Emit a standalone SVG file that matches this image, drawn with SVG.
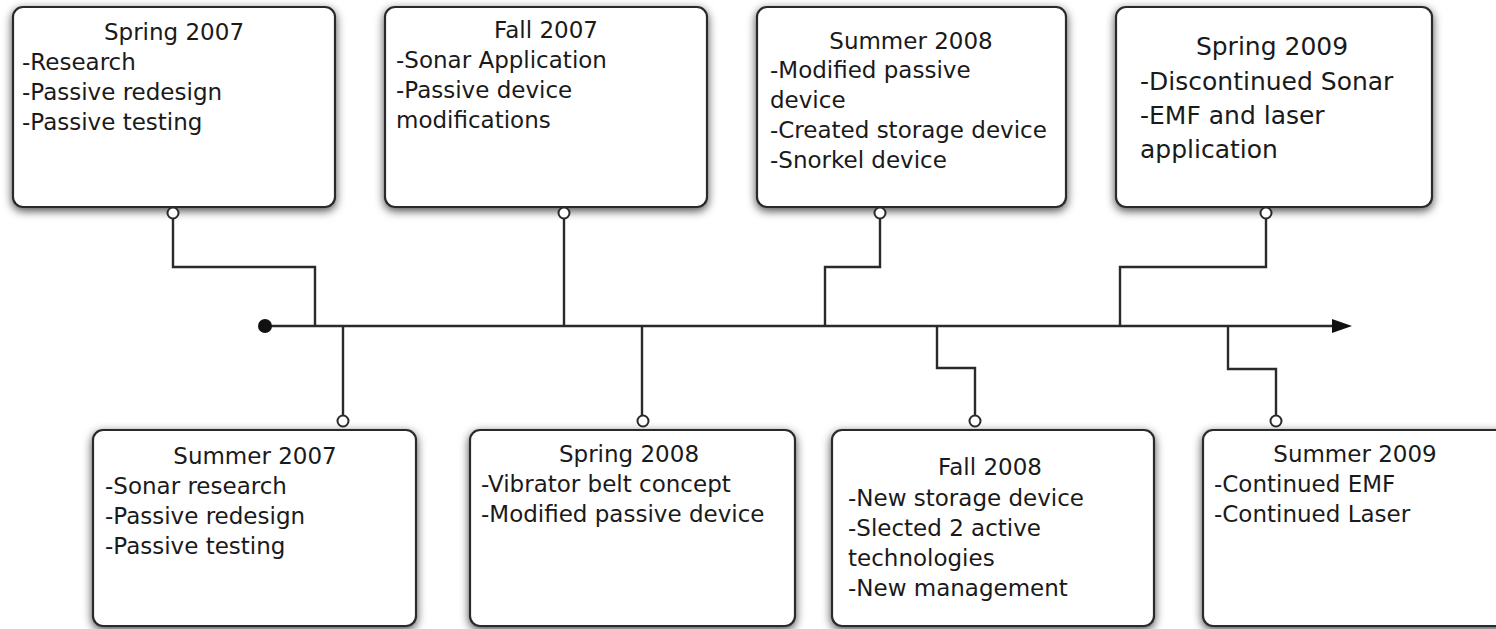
<svg xmlns="http://www.w3.org/2000/svg" width="1496" height="629" viewBox="0 0 1496 629">
<style>
.box{fill:#fff;stroke:#2a2a2a;stroke-width:2.2}
.t{font-family:"DejaVu Sans","Liberation Sans",sans-serif;font-size:23px;fill:#1a1a1a}
.c{text-anchor:middle}
.big{font-size:25px}
.ln{fill:none;stroke:#2a2a2a;stroke-width:2.4}
.pin{fill:#fff;stroke:#2a2a2a;stroke-width:2}
</style>
<defs>
<filter id="sh" x="-10%" y="-15%" width="120%" height="135%">
<feDropShadow dx="0" dy="3" stdDeviation="5" flood-color="#000" flood-opacity="0.7"/>
</filter>
</defs>
<rect width="1496" height="629" fill="#fff"/>

<g id="connectors">
<line class="ln" x1="265" y1="326" x2="1340" y2="326"/>
<path d="M1332,319 L1352,326 L1332,333 Z" fill="#111"/>
<circle cx="265" cy="326" r="7" fill="#111"/>
<polyline class="ln" points="173,213 173,267 315,267 315,326"/>
<polyline class="ln" points="343,326 343,421"/>
<polyline class="ln" points="564,213 564,326"/>
<polyline class="ln" points="642,326 642,421"/>
<polyline class="ln" points="880,213 880,267 825,267 825,326"/>
<polyline class="ln" points="937,326 937,368 975,368 975,421"/>
<polyline class="ln" points="1266,213 1266,267 1120,267 1120,326"/>
<polyline class="ln" points="1228,326 1228,369 1276,369 1276,421"/>
</g>

<g id="spring2007">
<rect class="box" x="13" y="7" width="322" height="200" rx="10" filter="url(#sh)"/>
<circle class="pin" cx="173" cy="213" r="5.5"/>
<text class="t c" x="174" y="40">Spring 2007</text>
<text class="t" x="22" y="70">-Research</text>
<text class="t" x="22" y="100">-Passive redesign</text>
<text class="t" x="22" y="130">-Passive testing</text>
</g>

<g id="fall2007">
<rect class="box" x="385" y="7" width="322" height="200" rx="10" filter="url(#sh)"/>
<circle class="pin" cx="564" cy="213" r="5.5"/>
<text class="t c" x="546" y="38">Fall 2007</text>
<text class="t" x="396" y="68">-Sonar Application</text>
<text class="t" x="396" y="98">-Passive device</text>
<text class="t" x="396" y="128">modifications</text>
</g>

<g id="summer2008">
<rect class="box" x="757" y="7" width="309" height="200" rx="10" filter="url(#sh)"/>
<circle class="pin" cx="880" cy="213" r="5.5"/>
<text class="t c" x="911" y="49">Summer 2008</text>
<text class="t" x="770" y="78">-Modified passive</text>
<text class="t" x="770" y="108">device</text>
<text class="t" x="770" y="138">-Created storage device</text>
<text class="t" x="770" y="168">-Snorkel device</text>
</g>

<g id="spring2009">
<rect class="box" x="1116" y="7" width="316" height="200" rx="10" filter="url(#sh)"/>
<circle class="pin" cx="1266" cy="213" r="5.5"/>
<text class="t c big" x="1272" y="55">Spring 2009</text>
<text class="t big" x="1140" y="90">-Discontinued Sonar</text>
<text class="t big" x="1140" y="124">-EMF and laser</text>
<text class="t big" x="1140" y="158">application</text>
</g>

<g id="summer2007">
<rect class="box" x="93" y="430" width="323" height="196" rx="10" filter="url(#sh)"/>
<circle class="pin" cx="343" cy="421" r="5.5"/>
<text class="t c" x="255" y="464">Summer 2007</text>
<text class="t" x="105" y="494">-Sonar research</text>
<text class="t" x="105" y="524">-Passive redesign</text>
<text class="t" x="105" y="554">-Passive testing</text>
</g>

<g id="spring2008">
<rect class="box" x="470" y="430" width="325" height="196" rx="10" filter="url(#sh)"/>
<circle class="pin" cx="643" cy="421" r="5.5"/>
<text class="t c" x="629" y="462">Spring 2008</text>
<text class="t" x="481" y="492">-Vibrator belt concept</text>
<text class="t" x="481" y="522">-Modified passive device</text>
</g>

<g id="fall2008">
<rect class="box" x="832" y="430" width="322" height="196" rx="10" filter="url(#sh)"/>
<circle class="pin" cx="975" cy="421" r="5.5"/>
<text class="t c" x="990" y="475">Fall 2008</text>
<text class="t" x="848" y="506">-New storage device</text>
<text class="t" x="848" y="536">-Slected 2 active</text>
<text class="t" x="848" y="566">technologies</text>
<text class="t" x="848" y="596">-New management</text>
</g>

<g id="summer2009">
<rect class="box" x="1203" y="430" width="320" height="196" rx="10" filter="url(#sh)"/>
<circle class="pin" cx="1276" cy="421" r="5.5"/>
<text class="t c" x="1355" y="462">Summer 2009</text>
<text class="t" x="1214" y="492">-Continued EMF</text>
<text class="t" x="1214" y="522">-Continued Laser</text>
</g>
</svg>
